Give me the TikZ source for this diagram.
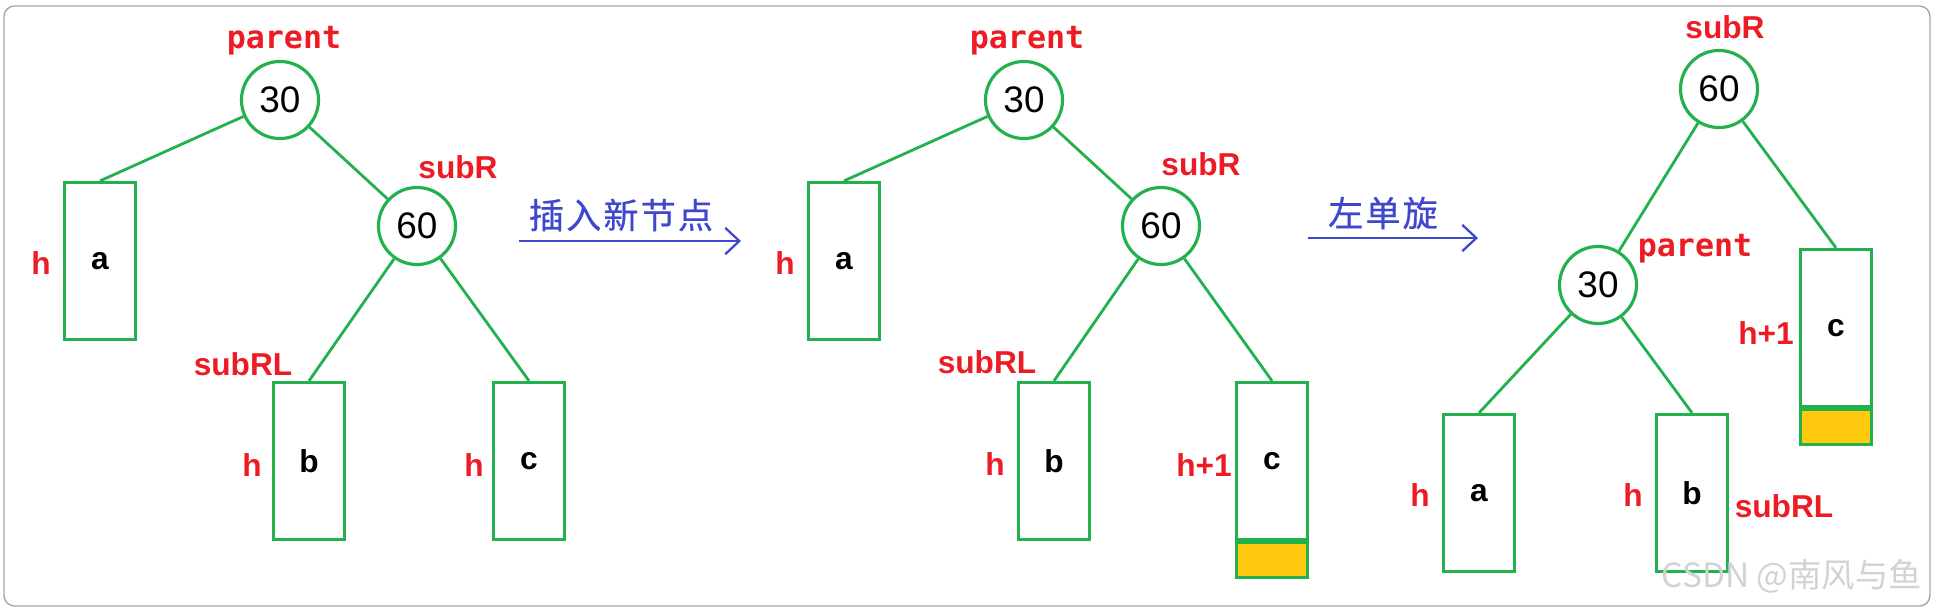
\documentclass[tikz,border=0pt]{standalone}
\usepackage{fontspec}
\setmainfont{Liberation Sans}
\newfontfamily\parentfont{DejaVu Sans Mono}
\newfontfamily\cjkfont{Noto Sans CJK SC}
\newfontfamily\cjkwide[LetterSpace=6,FakeBold=0.6]{Noto Sans CJK SC}
\usetikzlibrary{arrows.meta}
\definecolor{treegreen}{RGB}{34,177,76}
\definecolor{tagred}{RGB}{237,28,36}
\definecolor{turnblue}{RGB}{63,72,204}
\definecolor{growyellow}{RGB}{255,201,14}
\begin{document}
\begin{tikzpicture}[x=0.01cm,y=-0.01cm,
  key/.style={circle,draw=treegreen,line width=0.9pt,minimum size=0.77cm,inner sep=0pt,font=\fontsize{10.5}{12}\selectfont},
  subtree/.style={rectangle,draw=treegreen,line width=0.9pt,minimum width=0.71cm,minimum height=1.57cm,inner sep=0pt,font=\bfseries\fontsize{9}{10}\selectfont},
  grown/.style={rectangle,draw=treegreen,fill=growyellow,line width=0.9pt,minimum width=0.71cm,minimum height=0.35cm,inner sep=0pt,anchor=north},
  link/.style={draw=treegreen,line width=0.8pt},
  tag/.style={text=tagred,font=\bfseries\fontsize{9}{10}\selectfont,inner sep=0pt},
  ptag/.style={text=tagred,font=\parentfont\bfseries\fontsize{9}{10}\selectfont,inner sep=0pt},
  turn/.style={draw=turnblue,line width=0.65pt,-{Straight Barb[length=4pt,width=7.5pt]}},
  turntext/.style={text=turnblue,font=\cjkwide\fontsize{10}{12}\selectfont,inner sep=0pt}]
\useasboundingbox (0,0) rectangle (1936,611);
\draw[gray!70,line width=0.4pt,rounded corners=3pt] (4,6) rectangle (1930,606);
% before insertion
\node[key] (keyA30) at (280,100) {30};
\node[ptag] (tagA30) at (284,41) {parent};
\node[subtree] (treeAa) at (100,261) {a};
\node[tag] (hAa) at (41,263) {h};
\node[key] (keyA60) at (417,226) {60};
\node[tag] (tagA60) at (458,167) {subR};
\node[subtree] (treeAb) at (309,461) {b};
\node[tag] (tagAb) at (243,364) {subRL};
\node[tag] (hAb) at (252,465) {h};
\node[subtree] (treeAc) at (529,461) {c};
\node[tag] (hAc) at (474,465) {h};
\draw[link] (keyA30) -- (treeAa.north);
\draw[link] (keyA30) -- (keyA60);
\draw[link] (keyA60) -- (treeAb.north);
\draw[link] (keyA60) -- (treeAc.north);
% after insertion
\node[key] (keyB30) at (1024,100) {30};
\node[ptag] (tagB30) at (1027,41) {parent};
\node[subtree] (treeBa) at (844,261) {a};
\node[tag] (hBa) at (785,263) {h};
\node[key] (keyB60) at (1161,226) {60};
\node[tag] (tagB60) at (1201,164) {subR};
\node[subtree] (treeBb) at (1054,461) {b};
\node[tag] (tagBb) at (987,362) {subRL};
\node[tag] (hBb) at (995,464) {h};
\node[subtree] (treeBc) at (1272,461) {c};
\node[grown] (growBc) at (treeBc.south) {};
\node[tag] (hBc) at (1204,465) {h+1};
\draw[link] (keyB30) -- (treeBa.north);
\draw[link] (keyB30) -- (keyB60);
\draw[link] (keyB60) -- (treeBb.north);
\draw[link] (keyB60) -- (treeBc.north);
% after left rotation
\node[key] (keyC60) at (1719,89) {60};
\node[tag] (tagC60) at (1725,27) {subR};
\node[key] (keyC30) at (1598,285) {30};
\node[ptag] (tagC30) at (1695,249) {parent};
\node[subtree] (treeCa) at (1479,493) {a};
\node[tag] (hCa) at (1420,495) {h};
\node[subtree] (treeCb) at (1692,493) {b};
\node[tag] (hCb) at (1633,495) {h};
\node[tag] (tagCb) at (1784,506) {subRL};
\node[subtree] (treeCc) at (1836,328) {c};
\node[grown] (growCc) at (treeCc.south) {};
\node[tag] (hCc) at (1766,333) {h+1};
\draw[link] (keyC60) -- (keyC30);
\draw[link] (keyC60) -- (treeCc.north);
\draw[link] (keyC30) -- (treeCa.north);
\draw[link] (keyC30) -- (treeCb.north);
% arrows between the steps
\coordinate (insFrom) at (519,241);
\coordinate (insTo) at (741,241);
\draw[turn] (insFrom) -- (insTo);
\node[turntext] (insText) at (621,215) {插入新节点};
\coordinate (rotFrom) at (1308,238);
\coordinate (rotTo) at (1478,238);
\draw[turn] (rotFrom) -- (rotTo);
\node[turntext] (rotText) at (1383,213) {左单旋};
\node[text=gray!35,font=\cjkfont\fontsize{9.5}{11}\selectfont,inner sep=0pt] (mark) at (1792,576) {CSDN @南风与鱼};
\end{tikzpicture}
\end{document}
